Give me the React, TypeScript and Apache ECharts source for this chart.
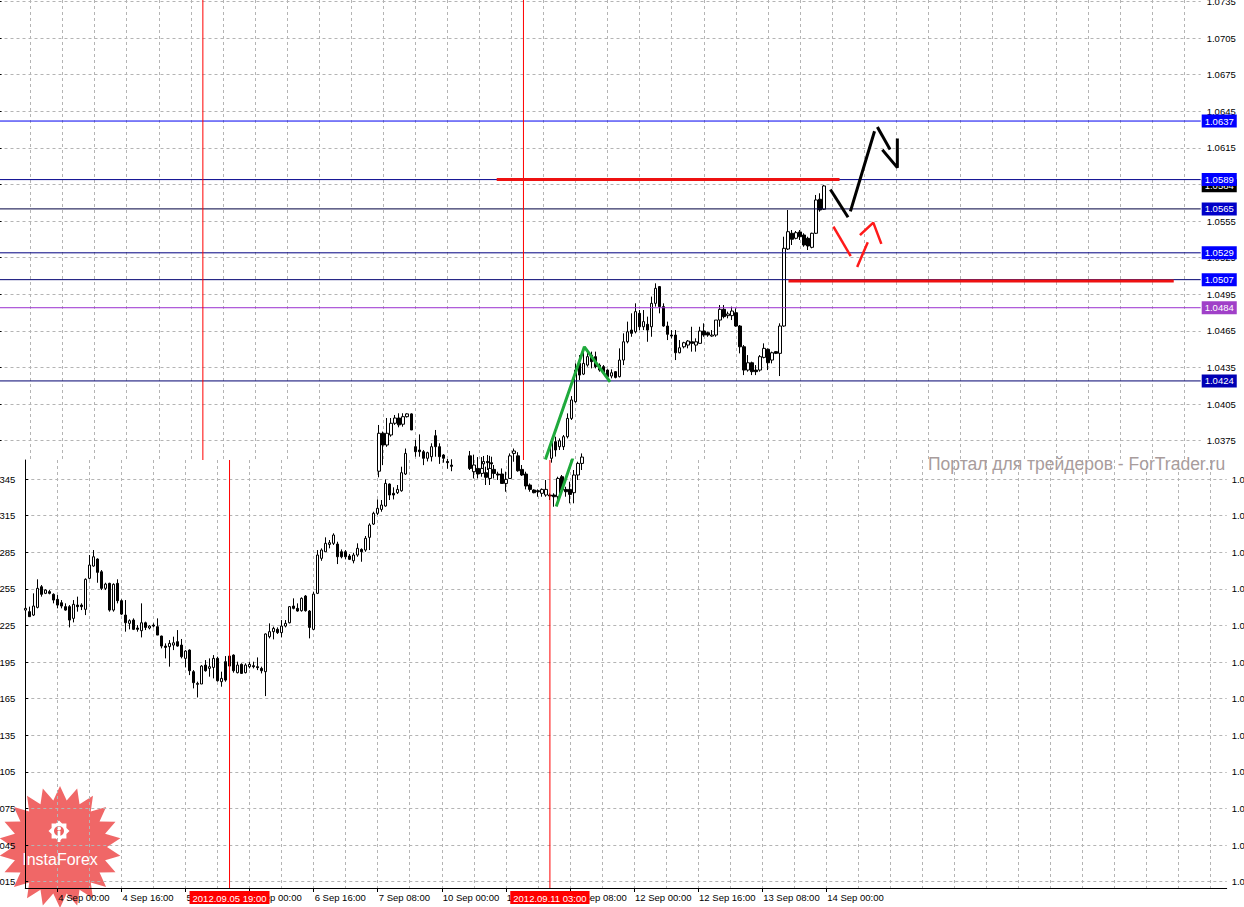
import React, { useEffect, useRef } from 'react';
import * as echarts from 'echarts';

const FONT = '"Liberation Sans", Arial, sans-serif';

// ---------- time axis (hourly bars, weekends skipped) ----------
const MONTHS = ['Jan', 'Feb', 'Mar', 'Apr', 'May', 'Jun', 'Jul', 'Aug', 'Sep', 'Oct', 'Nov', 'Dec'];
function buildHours(count: number): string[] {
  const out: string[] = [];
  let t = Date.UTC(2012, 8, 3, 16);
  while (out.length < count) {
    const d = new Date(t);
    const wd = d.getUTCDay();
    if (wd !== 0 && wd !== 6) {
      const hh = String(d.getUTCHours()).padStart(2, '0');
      out.push(`${d.getUTCDate()} ${MONTHS[d.getUTCMonth()]} ${hh}:00`);
    }
    t += 3600 * 1000;
  }
  return out;
}
const HOURS = buildHours(301);
const LAST_LABEL_INDEX = 200; // 14 Sep 00:00

// ---------- price axes ----------
const UPPER_TICKS = [1.0375, 1.0405, 1.0435, 1.0465, 1.0495, 1.0525, 1.0555, 1.0585, 1.0615, 1.0645, 1.0675, 1.0705, 1.0735];
const LOWER_TICKS = [1.0015, 1.0045, 1.0075, 1.0105, 1.0135, 1.0165, 1.0195, 1.0225, 1.0255, 1.0285, 1.0315, 1.0345];
const UPPER_RANGE = [1.03592, 1.07362];
const LOWER_RANGE = [1.00098, 1.03606];

// ---------- candles, in pips: [open, close, low, high] ----------
const UPPER_A_START = 95;
const UPPER_A = [
  [10350, 10381.1, 10345, 10387.9], [10381.1, 10371.5, 10355, 10382.5], [10371.5, 10381.1, 10370, 10393.6],
  [10379.7, 10389.3, 10378.3, 10393.6], [10389.3, 10393.6, 10388, 10396.1], [10393.6, 10388, 10386, 10397.5],
  [10388.5, 10394.7, 10386.5, 10397.5], [10394.7, 10397, 10394, 10397.5], [10397, 10383.8, 10383.8, 10397.5],
  [10370.1, 10366, 10361.9, 10375.6], [10367.4, 10366, 10361.9, 10380.2], [10366, 10360.6, 10355, 10367.4],
  [10360.6, 10365.2, 10358, 10366], [10361.9, 10370.1, 10358, 10372.9], [10379.1, 10370.1, 10361.9, 10383.8],
  [10370.1, 10361.9, 10356, 10372.9], [10363.3, 10360.6, 10357, 10364], [10358, 10357, 10352, 10360],
  [10355, 10354, 10350, 10359.8],
];
const UPPER_B_START = 121;
const UPPER_B = [
  [10356, 10358, 10350, 10362.5], [10358, 10357, 10351, 10363.3], [10357, 10356, 10350, 10361.9],
];
const UPPER_C_START = 138;
const UPPER_C = [
  [10360.6, 10374.2, 10357, 10376.9], [10374.2, 10367.4, 10362, 10378.3], [10370.1, 10375.0, 10367.4, 10376.9],
  [10370.1, 10378.3, 10367.4, 10379.7], [10378.3, 10393.3, 10376.9, 10397.4], [10393.3, 10408.4, 10392, 10411.6],
  [10407, 10432.9, 10406.1, 10438.4], [10438.4, 10428.8, 10424.8, 10445.2], [10429.6, 10438.4, 10428.8, 10448],
  [10437, 10443.9, 10435.7, 10448], [10445.2, 10439.8, 10434.3, 10448], [10443.9, 10435.7, 10434.3, 10448],
  [10437, 10432.9, 10431.6, 10438.4], [10435.7, 10430.7, 10429.6, 10437], [10432.9, 10427.5, 10425.3, 10433.5],
  [10428, 10430.7, 10426.1, 10433.5], [10431.6, 10426.9, 10426.1, 10432.1], [10427.5, 10441.1, 10426.9, 10450.7],
  [10441.1, 10456.1, 10437, 10463], [10456.1, 10464.3, 10454.8, 10472.6], [10465.7, 10463, 10460.2, 10479.4],
  [10464.3, 10480.8, 10463, 10487.6], [10479.4, 10468.4, 10465.7, 10482.1], [10468.4, 10472.6, 10465.7, 10482.1],
  [10470.4, 10465.7, 10456.1, 10476.7], [10468.4, 10487.6, 10460.2, 10493.1], [10487.6, 10499.9, 10484.9, 10504],
  [10501.3, 10484.9, 10479.4, 10501.8], [10484.9, 10469, 10468.4, 10487.6], [10469, 10462.2, 10457.5, 10472.6],
  [10461.6, 10460.8, 10458.9, 10465.7], [10461.6, 10447.1, 10441.1, 10465.7], [10447.1, 10451.2, 10446.6, 10457.5],
  [10452, 10455.3, 10450.7, 10456.1], [10453.4, 10456.7, 10450.7, 10457.5], [10456.1, 10454.8, 10448, 10468.4],
  [10453.4, 10456.1, 10448, 10458.9], [10454.8, 10464.9, 10454.8, 10468.4], [10464.9, 10461.6, 10460.2, 10471.2],
  [10463.5, 10461.6, 10460.2, 10464.3], [10460.8, 10461.6, 10460.2, 10465.7], [10461.6, 10473.9, 10460.2, 10473.9],
  [10473.9, 10482.7, 10468.4, 10486.2], [10482.7, 10476.7, 10475.3, 10486.2], [10477.5, 10478.9, 10475.3, 10480.8],
  [10477.5, 10481.3, 10473.9, 10484.9], [10479.9, 10469, 10468.4, 10483.5], [10469, 10452, 10446.6, 10469.8],
  [10452, 10432.9, 10428.8, 10453.4], [10432.9, 10438.9, 10431.6, 10445.2], [10438.9, 10431.6, 10428.8, 10439.8],
  [10432.9, 10431.6, 10428.8, 10437], [10432.9, 10443.9, 10431.6, 10445.2], [10443.3, 10450.7, 10442.5, 10454.8],
  [10449.9, 10438.9, 10432.9, 10450.7], [10441.1, 10447.1, 10438.4, 10448], [10448, 10446.6, 10446, 10448.5],
  [10446.6, 10469, 10428, 10471.2], [10469, 10532.7, 10468.4, 10542.2], [10532.1, 10546.3, 10531.3, 10564.1],
  [10545, 10540.1, 10535.4, 10547.7], [10540.9, 10545.5, 10540.1, 10546.9], [10546.1, 10542.2, 10539.5, 10547.7],
  [10543.6, 10535.4, 10534, 10545], [10540.9, 10534.6, 10531.3, 10542.2], [10533.5, 10545, 10532.7, 10545.5],
  [10545, 10572.3, 10544.4, 10576.4], [10572.9, 10564.1, 10562.7, 10577.8], [10564.7, 10583.8, 10564.1, 10584.6],
];

const LOWER_A_START = 0;
const LOWER_A = [
  [10237.6, 10239.0, 10233.5, 10241.7], [10236.3, 10232.2, 10232.2, 10240.4], [10233.5, 10240.9, 10232.7, 10251.3],
  [10239.8, 10255.4, 10239.0, 10262.8], [10256.7, 10250.5, 10248.6, 10258.1], [10251.3, 10254.0, 10250.7, 10254.6],
  [10252.7, 10251.3, 10250.5, 10254.0], [10250.5, 10245.8, 10243.1, 10251.3], [10246.4, 10241.7, 10239.0, 10249.9],
  [10243.6, 10240.9, 10239.0, 10245.8], [10240.4, 10237.6, 10237.1, 10243.1], [10240.4, 10229.4, 10223.4, 10241.7],
  [10230.8, 10242.3, 10227.5, 10245.8], [10241.7, 10240.4, 10236.3, 10248.6], [10241.7, 10240.4, 10237.6, 10243.1],
  [10238.2, 10262.8, 10233.5, 10263.6], [10263.6, 10274.5, 10262.8, 10282.7], [10273.7, 10281.3, 10273.1, 10286.8],
  [10279.4, 10268.5, 10260.0, 10280.0], [10269.0, 10255.4, 10254.0, 10270.4], [10255.4, 10258.9, 10254.0, 10260.0],
  [10259.5, 10237.6, 10236.3, 10260.0], [10237.6, 10258.7, 10236.3, 10259.5], [10259.5, 10245.3, 10243.1, 10262.8],
  [10245.3, 10234.3, 10233.5, 10246.4], [10233.5, 10227.2, 10219.9, 10245.8], [10226.7, 10228.9, 10221.8, 10230.0],
  [10229.4, 10221.8, 10221.2, 10230.8], [10222.9, 10221.8, 10219.9, 10225.3], [10220.7, 10227.2, 10215.2, 10243.1],
  [10227.2, 10223.4, 10221.2, 10228.1], [10222.9, 10224.5, 10221.8, 10225.3], [10225.3, 10224.5, 10223.4, 10226.7],
  [10224.0, 10217.1, 10217.1, 10230.8], [10216.3, 10208.1, 10206.2, 10216.6], [10208.1, 10207.0, 10198.0, 10210.3],
  [10207.6, 10210.3, 10191.2, 10213.0], [10208.9, 10210.8, 10204.8, 10215.8], [10211.7, 10208.1, 10207.6, 10221.2],
  [10208.9, 10199.4, 10198.0, 10213.9], [10198.0, 10204.0, 10190.6, 10204.8], [10204.8, 10187.9, 10184.3, 10205.4],
  [10187.1, 10178.1, 10173.4, 10188.4], [10176.7, 10177.5, 10166.0, 10178.9], [10177.0, 10191.7, 10177.0, 10192.5],
  [10192.5, 10187.9, 10187.1, 10196.6], [10189.8, 10191.2, 10183.0, 10198.0], [10190.6, 10198.0, 10181.6, 10200.7],
  [10198.0, 10179.7, 10178.9, 10199.4], [10178.9, 10181.6, 10174.8, 10187.1], [10195.3, 10180.2, 10178.9, 10199.9],
  [10191.7, 10199.9, 10191.2, 10200.7], [10200.7, 10187.9, 10186.3, 10201.3], [10186.3, 10192.5, 10185.7, 10195.3],
  [10193.1, 10185.7, 10185.2, 10193.9], [10186.3, 10192.5, 10185.7, 10193.9], [10191.2, 10193.1, 10189.8, 10195.3],
  [10192.0, 10191.2, 10189.8, 10195.3], [10191.2, 10190.4, 10188.4, 10198.8], [10189.8, 10187.9, 10185.7, 10191.2],
  [10187.1, 10218.0, 10167.1, 10218.5], [10215.8, 10219.9, 10214.4, 10226.7], [10219.9, 10222.6, 10213.6, 10224.0],
  [10221.8, 10219.1, 10218.0, 10223.4], [10219.1, 10224.5, 10215.2, 10229.4], [10224.5, 10226.7, 10223.4, 10229.4],
  [10227.2, 10240.4, 10226.7, 10240.9], [10240.9, 10239.0, 10238.2, 10247.2], [10239.0, 10236.8, 10236.3, 10243.1],
  [10237.1, 10247.2, 10236.3, 10248.0], [10249.1, 10237.1, 10236.3, 10249.9], [10236.8, 10223.4, 10214.4, 10237.6],
  [10221.8, 10250.7, 10221.2, 10252.7], [10251.3, 10282.7, 10250.7, 10286.8], [10280.0, 10286.8, 10278.0, 10288.2],
  [10285.4, 10292.3, 10285.4, 10297.2], [10291.4, 10292.8, 10288.2, 10295.0], [10292.3, 10299.1, 10290.9, 10300.5],
  [10291.7, 10281.3, 10275.3, 10293.6], [10285.4, 10281.3, 10280.0, 10287.3], [10285.4, 10281.3, 10279.2, 10286.8],
  [10281.9, 10279.2, 10278.6, 10283.5], [10278.0, 10282.7, 10275.9, 10284.6], [10282.7, 10288.2, 10281.3, 10292.3],
  [10287.3, 10285.4, 10277.2, 10288.2], [10286.8, 10296.4, 10285.4, 10298.3], [10297.2, 10307.3, 10286.8, 10308.7],
  [10308.1, 10316.9, 10307.3, 10318.2], [10316.9, 10321.0, 10315.5, 10328.3], [10320.1, 10323.7, 10318.2, 10327.8],
  [10322.9, 10341.4, 10322.3, 10344.7], [10340.9, 10331.9, 10327.8, 10341.4], [10333.3, 10331.9, 10328.3, 10338.2],
  [10333.8, 10336.5, 10332.7, 10340.1], [10335.4, 10350.2, 10334.6, 10355.1], [10349.1, 10366.0, 10348.3, 10370.0],
];
const LOWER_B_START = 111;
const LOWER_B = [
  [10364.0, 10353.7, 10352.4, 10368.0], [10351.0, 10356.5, 10345.5, 10365.0], [10353.7, 10349.1, 10345.5, 10363.0],
  [10349.6, 10353.7, 10346.9, 10363.0], [10350.2, 10346.4, 10340.1, 10355.1], [10345.5, 10353.7, 10340.1, 10364.0],
  [10352.9, 10349.6, 10345.5, 10356.5], [10349.1, 10348.3, 10344.2, 10351.0], [10349.1, 10341.4, 10341.4, 10353.7],
  [10341.4, 10344.7, 10334.6, 10351.0], [10345.5, 10364.0, 10345.5, 10366.0], [10366.0, 10368.0, 10359.2, 10370.0],
  [10364.0, 10351.8, 10351.0, 10367.0], [10352.9, 10348.3, 10347.5, 10356.5], [10349.1, 10339.3, 10336.5, 10351.0],
  [10340.1, 10336.5, 10334.6, 10341.4], [10336.0, 10333.8, 10333.3, 10336.5], [10335.4, 10334.6, 10330.5, 10336.5],
  [10333.3, 10336.5, 10330.5, 10337.3], [10331.9, 10336.5, 10330.5, 10344.2], [10331.9, 10331.1, 10327.8, 10333.3],
  [10331.9, 10330.5, 10322.3, 10333.3], [10330.5, 10345.5, 10327.8, 10346.9], [10346.9, 10336.0, 10334.6, 10348.3],
  [10336.5, 10334.6, 10330.5, 10338.7], [10336.5, 10332.4, 10325.1, 10342.8], [10333.8, 10348.3, 10325.1, 10352.4],
  [10348.3, 10357.8, 10344.2, 10359.2], [10357.8, 10363.0, 10352.4, 10366.0],
];

// ---------- horizontal levels on the upper chart ----------
const LEVEL_VALUES = [1.0637, 1.0584, 1.0589, 1.0565, 1.0529, 1.0507, 1.0484, 1.0424];
const LEVEL_LINE_COLORS = ['#0000f0', 'rgba(0,0,0,0)', '#00008c', '#000040', '#000080', '#000070', '#9a30d0', '#000070'];
const LEVEL_BOX_COLORS = ['#0000ff', '#000000', '#0000ff', '#0000c8', '#0000ff', '#0000ff', '#a040c8', '#0000b4'];

// ---------- vertical time markers ----------
const V_MARKS = [51, 131];
const V_MARK_LABELS = ['2012.09.05 19:00', '2012.09.11 03:00'];

// ---------- drawn analysis lines: [bar index, price] ----------
const RED_LEVEL_HIGH = [[124.7, 1.0589], [209.5, 1.0589]];
const RED_LEVEL_LOW = [[197.5, 1.0506], [292.9, 1.0506]];
const GREEN_UPPER = [[136.6, 1.03608], [146.2, 1.0452], [152.4, 1.04242]];
const GREEN_LOWER = [[132.7, 1.03237], [136.6, 1.03611]];
const BLACK_ARROW_1 = [[207.8, 1.05799], [211.8, 1.05592]];
const BLACK_ARROW_2 = [[212.7, 1.05641], [218.5, 1.06275]];
const BLACK_ARROW_3 = [[219.5, 1.06311], [222.3, 1.06147]];
const BLACK_ARROW_4 = [[220.8, 1.06125], [224.3, 1.05988], [224.3, 1.06215]];
const RED_ARROW_1 = [[208.5, 1.05496], [212.5, 1.05272]];
const RED_ARROW_2 = [[214.4, 1.05184], [216.8, 1.05368]];
const RED_ARROW_3 = [[215.2, 1.05442], [218.3, 1.05537], [220.2, 1.05373]];

function buildCandles(n: number, blocks: [number, number[][]][]) {
  const out: any[] = Array.from({ length: n }, () => ['-', '-', '-', '-']);
  blocks.forEach(([start, bars]) => {
    bars.forEach((b, k) => {
      out[start + k] = b.map((v) => +(v / 10000).toFixed(6));
    });
  });
  return out;
}

function starPoints(cx: number, cy: number, ro: number, ri: number, n: number) {
  const pts: number[][] = [];
  for (let k = 0; k < n * 2; k++) {
    const r = k % 2 === 0 ? ro : ri;
    const a = (Math.PI * k) / n - Math.PI / 2;
    pts.push([cx + r * Math.cos(a), cy + r * Math.sin(a)]);
  }
  return pts;
}

const GRID_LINE = { color: '#b4b4b4', width: 1, type: [3, 3] as any };
const CLEAR = 'rgba(255,255,255,0)';

export default function App() {
  const ref = useRef<HTMLDivElement>(null);
  useEffect(() => {
    if (!ref.current) return;
    const chart = echarts.init(ref.current, null, { renderer: 'svg' });
    const N = HOURS.length;
    const upper = buildCandles(N, [[UPPER_A_START, UPPER_A], [UPPER_B_START, UPPER_B], [UPPER_C_START, UPPER_C]]);
    const lower = buildCandles(N, [[LOWER_A_START, LOWER_A], [LOWER_B_START, LOWER_B]]);
    const labelInt = (i: number) => i >= 8 && (i - 8) % 16 === 0 && i <= LAST_LABEL_INDEX;
    const splitInt = (i: number) => i % 8 === 0;
    const candleStyle = { color: '#ffffff', color0: '#000000', borderColor: '#000000', borderColor0: '#000000', borderWidth: 1 };
    const fmt = (v: number) => v.toFixed(4);

    const annot = (data: number[][], color: string, width: number, grid: 0 | 1, extra: any = {}) => ({
      type: 'line', xAxisIndex: grid === 0 ? 2 : 3, yAxisIndex: grid === 0 ? 0 : 1,
      data, showSymbol: false, symbol: 'none', silent: true, z: 5, clip: true,
      lineStyle: { color, width, cap: 'square' }, ...extra,
    });

    const levelLabels = {
      silent: true, symbol: ['none', 'none'], animation: false, precision: 4,
      lineStyle: { color: CLEAR, width: 1 },
      data: LEVEL_VALUES.map((v, k) => ({
        yAxis: v,
        lineStyle: { color: CLEAR, width: 1 },
        label: {
          show: true, position: 'end', distance: 1, formatter: fmt(v), color: '#ffffff', opacity: 1,
          backgroundColor: LEVEL_BOX_COLORS[k], padding: [2, 3, 1, 3], fontSize: 9.5, lineHeight: 10, fontFamily: FONT,
        },
      })),
    };

    const levelLines = LEVEL_VALUES.map((v, k) => annot([[0, v], [N - 1, v]], LEVEL_LINE_COLORS[k], 1, 0, { z: 4, lineStyle: { color: LEVEL_LINE_COLORS[k], width: 1 } }));
    const upperVLines = V_MARKS.map((x) => annot([[x, UPPER_RANGE[0]], [x, UPPER_RANGE[1]]], '#ff0000', 1, 0, { z: 4, lineStyle: { color: '#ff0000', width: 1 } }));
    const lowerVLines = V_MARKS.map((x) => annot([[x, LOWER_RANGE[0]], [x, LOWER_RANGE[1]]], '#ff0000', 1, 1, { z: 4, lineStyle: { color: '#ff0000', width: 1 } }));

    const option: any = {
      animation: false,
      backgroundColor: '#ffffff',
      grid: [
        { left: -1.5, top: 0, width: 1202.2, height: 460, outerBoundsMode: 'none', containLabel: false },
        { left: 25.3, top: 460, width: 1201.4, height: 428, outerBoundsMode: 'none', containLabel: false },
      ],
      xAxis: [
        {
          type: 'category', gridIndex: 0, data: HOURS, boundaryGap: false,
          axisLine: { show: false }, axisTick: { show: false }, axisLabel: { show: false },
          splitLine: { show: true, interval: splitInt, lineStyle: GRID_LINE },
        },
        {
          type: 'category', gridIndex: 1, data: HOURS, boundaryGap: false,
          axisLine: { show: true, lineStyle: { color: '#000', width: 1 } },
          axisTick: { show: true, interval: labelInt, length: 4, lineStyle: { color: '#000' } },
          axisLabel: { show: true, interval: labelInt, align: 'left', margin: 4, padding: [0, 0, 0, 1], color: '#000', fontSize: 9.5, fontFamily: FONT, hideOverlap: false },
          splitLine: { show: true, interval: splitInt, lineStyle: GRID_LINE },
        },
        { type: 'value', gridIndex: 0, min: 0, max: N - 1, show: false },
        { type: 'value', gridIndex: 1, min: 0, max: N - 1, show: false },
      ],
      yAxis: [
        {
          type: 'value', gridIndex: 0, position: 'right', min: UPPER_RANGE[0], max: UPPER_RANGE[1],
          axisLine: { show: true, lineStyle: { color: '#000', width: 1 } },
          axisTick: { show: true, length: 3, customValues: UPPER_TICKS, lineStyle: { color: '#000' } },
          axisLabel: { show: true, customValues: UPPER_TICKS, formatter: fmt, margin: 6, color: '#000', fontSize: 9.5, fontFamily: FONT, hideOverlap: false },
          splitLine: { show: true, lineStyle: GRID_LINE },
        },
        {
          type: 'value', gridIndex: 1, position: 'right', min: LOWER_RANGE[0], max: LOWER_RANGE[1],
          axisLine: { show: true, lineStyle: { color: '#000', width: 1 } },
          axisTick: { show: true, length: 3, customValues: LOWER_TICKS, lineStyle: { color: '#000' } },
          axisLabel: { show: true, customValues: LOWER_TICKS, formatter: fmt, margin: 5, color: '#000', fontSize: 9.5, fontFamily: FONT },
          splitLine: { show: true, lineStyle: GRID_LINE },
        },
        {
          type: 'value', gridIndex: 1, position: 'left', min: LOWER_RANGE[0], max: LOWER_RANGE[1],
          axisLine: { show: false }, axisTick: { show: false, customValues: LOWER_TICKS },
          axisLabel: { show: true, customValues: LOWER_TICKS, formatter: fmt, margin: 10, color: '#000', fontSize: 9.5, fontFamily: FONT },
          splitLine: { show: false },
        },
      ],
      series: [
        ...levelLines,
        ...upperVLines,
        ...lowerVLines,
        { type: 'candlestick', name: 'upper', xAxisIndex: 0, yAxisIndex: 0, data: upper, barWidth: 3, itemStyle: candleStyle, clip: true, z: 3 },
        { type: 'candlestick', name: 'lower', xAxisIndex: 1, yAxisIndex: 1, data: lower, barWidth: 3, itemStyle: candleStyle, clip: true, z: 3 },
        annot(RED_LEVEL_HIGH, '#ee1111', 3, 0, { markLine: levelLabels, z: 6 }),
        annot(RED_LEVEL_LOW, '#ee1111', 3, 0),
        annot(GREEN_UPPER, '#1faa3c', 3, 0),
        annot(GREEN_LOWER, '#1faa3c', 3, 1, {
          markLine: {
            silent: true, symbol: ['none', 'none'], animation: false,
            lineStyle: { color: CLEAR, width: 1 },
            data: V_MARKS.map((x, k) => ({
              xAxis: x,
              lineStyle: { color: CLEAR, width: 1 },
              label: {
                show: true, position: 'start', distance: 3, formatter: V_MARK_LABELS[k], color: '#ffffff', opacity: 1,
                backgroundColor: '#ff0000', padding: [2, 3, 1, 3], fontSize: 9.5, fontFamily: FONT,
              },
            })),
          },
        }),
        annot(BLACK_ARROW_1, '#000000', 3, 0),
        annot(BLACK_ARROW_2, '#000000', 3, 0),
        annot(BLACK_ARROW_3, '#000000', 3, 0),
        annot(BLACK_ARROW_4, '#000000', 3, 0),
        annot(RED_ARROW_1, '#ff1a1a', 2.5, 0),
        annot(RED_ARROW_2, '#ff1a1a', 2.5, 0),
        annot(RED_ARROW_3, '#ff1a1a', 2.5, 0),
      ],
      graphic: [
        {
          type: 'text', x: 928, y: 464, z: 100, silent: true,
          style: { text: 'Портал для трейдеров - ForTrader.ru', fill: '#a89c9c', font: `17.5px ${FONT}`, verticalAlign: 'middle' },
        },
        {
          type: 'group', z: 100, silent: true,
          children: [
            { type: 'polygon', shape: { points: starPoints(60, 847, 61, 47, 22) }, style: { fill: 'rgba(238,82,82,0.88)' } },
            { type: 'polygon', shape: { points: starPoints(59, 831, 10.5, 8, 8) }, style: { fill: '#ffffff' } },
            { type: 'circle', shape: { cx: 59, cy: 831, r: 5 }, style: { fill: '#ee6060' } },
            { type: 'circle', shape: { cx: 59, cy: 828.5, r: 2 }, style: { fill: '#ffffff' } },
            { type: 'rect', shape: { x: 57.6, y: 831, width: 2.8, height: 11 }, style: { fill: '#ffffff' } },
            {
              type: 'text', x: 60, y: 859,
              style: { text: 'InstaForex', fill: '#ffffff', font: `16px ${FONT}`, align: 'center', verticalAlign: 'middle' },
            },
          ],
        },
      ],
    };
    chart.setOption(option);
    return () => chart.dispose();
  }, []);
  return <div ref={ref} style={{ position: 'fixed', left: 0, top: 0, width: 1244, height: 907, background: '#fff' }} />;
}
